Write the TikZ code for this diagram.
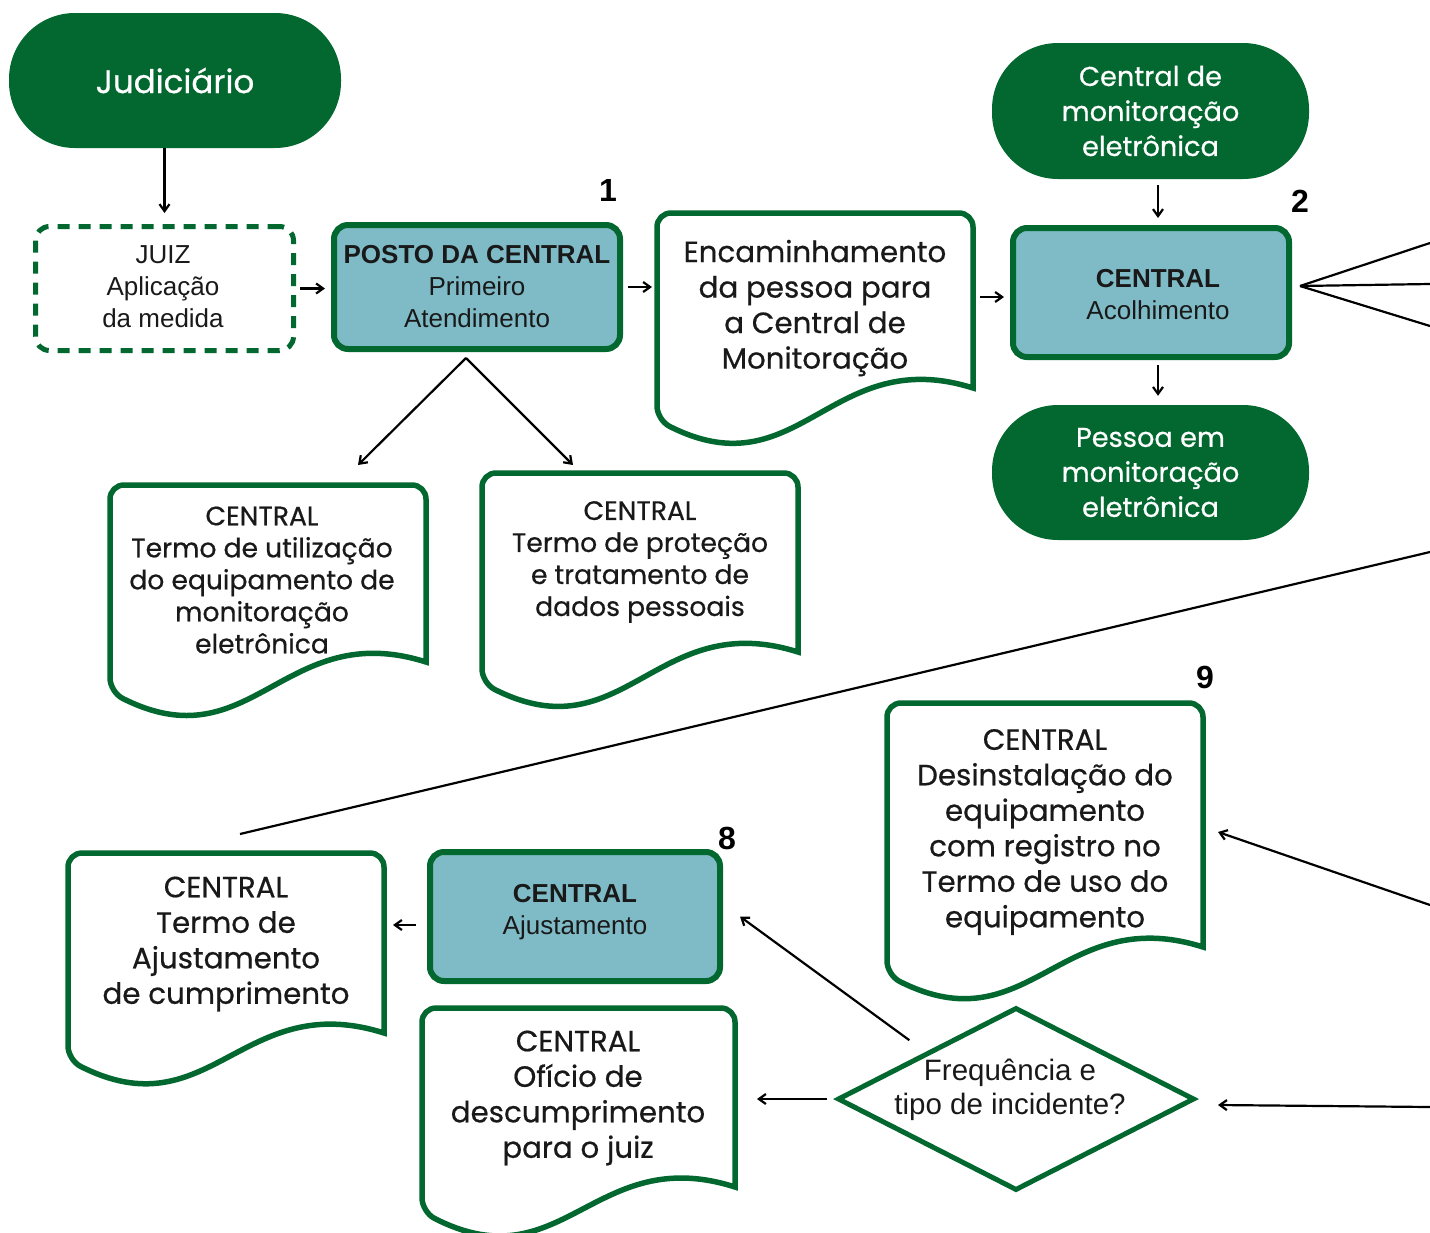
\documentclass[tikz,border=0pt]{standalone}
\usepackage{fontspec}
\setmainfont{Poppins}[FakeBold=0.6]
\newfontfamily\robfont{Liberation Sans}
\usetikzlibrary{arrows.meta,shapes.geometric,calc}
\definecolor{dg}{RGB}{3,104,47}
\definecolor{tealbox}{RGB}{127,187,199}
\definecolor{ink}{RGB}{25,25,25}
% #1 name, #2 x0, #3 top, #4 x1, #5 left bottom, #6 right bottom
\newcommand\mydoc[6]{%
  \node[docnode, minimum width={#4-#2}, minimum height={#5-#3}] (#1) at ({(#2+#4)/2},{(#3+#5)/2}) {};
  \draw[docline, rounded corners=14pt] (#4,#6) -- (#4,#3) -- (#2,#3) -- (#2,#5) [sharp corners]
     .. controls ({#2+0.45*(#4-#2)},{#5+72}) and ({#2+0.55*(#4-#2)},{#6-45}) .. (#4,#6) -- cycle;
}
\begin{document}
\begin{tikzpicture}[x=1pt,y=-1pt,
  pill/.style={rectangle, fill=dg, rounded corners=66pt, text=white, align=center, inner sep=0pt,
     font=\fontsize{27.2}{35}\selectfont},
  bluebox/.style={rectangle, fill=tealbox, draw=dg, line width=6pt, rounded corners=14pt, align=center,
     text=ink, inner sep=0pt, font=\robfont\fontsize{26}{32}\selectfont},
  dashbox/.style={rectangle, draw=dg, line width=5pt, dash pattern=on 12pt off 9pt, rounded corners=14pt, inner sep=0pt},
  robtext/.style={align=center, text=ink, inner sep=0pt, font=\robfont\fontsize{26}{32}\selectfont},
  docnode/.style={rectangle, draw=none, inner sep=0pt, outer sep=0pt},
  docline/.style={draw=dg, line width=5.5pt},
  doctext/.style={align=center, text=ink, inner sep=0pt, font=\fontsize{29.3}{35.5}\selectfont},
  smalldoc/.style={font=\fontsize{26.6}{32}\selectfont},
  arr/.style={draw=black, line width=2.2pt, -{Straight Barb[length=7pt,width=10pt]}},
  conn/.style={draw=black, line width=2.2pt},
  num/.style={font=\robfont\bfseries\fontsize{32}{32}\selectfont, text=black, inner sep=0pt},
]
\useasboundingbox (0,0) rectangle (1430,1232);

% pills
\node[pill, minimum width=332, minimum height=135, font=\fontsize{32.5}{35}\selectfont] (ju) at (175,80.5) {Judiciário};
\node[pill, minimum width=317, minimum height=136] (cm) at (1150.5,111) {Central de\\monitoração\\eletrônica};
\node[pill, minimum width=317, minimum height=135] (pe) at (1150.5,472.5) {Pessoa em\\monitoração\\eletrônica};

% juiz
\node[dashbox, minimum width=258, minimum height=124] (juiz) at (164.5,288.5) {};
\node[robtext] (juizt) at (163,287) {JUIZ\\Aplicação\\da medida};

% blue boxes
\node[bluebox, minimum width=286, minimum height=124] (posto) at (477,287) {\bfseries POSTO DA CENTRAL\\Primeiro\\Atendimento};
\node[bluebox, minimum width=276, minimum height=129] (acol) at (1151,292.5) {};
\node[robtext] (acolt) at (1158,294.5) {\bfseries CENTRAL\\Acolhimento};
\node[bluebox, minimum width=290, minimum height=129] (aj) at (575,916.5) {};
\node[robtext] (ajt) at (575,912) {\bfseries CENTRAL\\Ajustamento};

% numbers
\node[num] (n1) at (608,190) {1};
\node[num] (n2) at (1300,201) {2};
\node[num] (n8) at (727,838) {8};
\node[num] (n9) at (1205,677) {9};

% documents
\mydoc{docA}{657}{213}{973}{420}{388}
\node[doctext] (docAt) at (815,308) {Encaminhamento\\da pessoa para\\a Central de\\Monitoração};
\mydoc{docB}{110}{485}{426}{692}{662}
\node[doctext, smalldoc] (docBt) at (262,580) {CENTRAL\\Termo de utilização\\do equipamento de\\monitoração\\eletrônica};
\mydoc{docC}{482}{473}{798}{683}{652}
\node[doctext, smalldoc] (docCt) at (640,562) {CENTRAL\\Termo de proteção\\e tratamento de\\dados pessoais};
\mydoc{docD}{887}{703}{1203}{975}{947}
\node[doctext] (docDt) at (1045,832) {CENTRAL\\Desinstalação do\\equipamento\\com registro no\\Termo de uso do\\equipamento};
\mydoc{docE}{68}{853}{384}{1060}{1033}
\node[doctext] (docEt) at (226,944) {CENTRAL\\Termo de\\Ajustamento\\de cumprimento};
\mydoc{docF}{422}{1008}{735}{1212}{1187}
\node[doctext] (docFt) at (578,1098) {CENTRAL\\Ofício de\\descumprimento\\para o juiz};

% diamond
\node[diamond, draw=dg, line width=5pt, minimum width=357, minimum height=183, inner sep=0pt] (dia) at (1016,1099) {};
\node[robtext, font=\robfont\fontsize{29.5}{34}\selectfont] (diat) at (1010,1090) {Frequência e\\tipo de incidente?};

% coordinates
\coordinate (apex) at ([xshift=-11pt,yshift=-6pt]posto.south);
\coordinate (tipB) at (358,465);
\coordinate (tipC) at (573,465);
\coordinate (fan) at ([xshift=8pt,yshift=6.5pt]acol.east);
\coordinate (r1) at (1430,243);
\coordinate (r2) at (1430,284);
\coordinate (r3) at (1430,326);
\coordinate (r4) at (1430,552);
\coordinate (r5) at (1430,905);
\coordinate (r6) at (1430,1107);
\coordinate (lend) at ([xshift=14pt,yshift=19pt]docE.north);

% connectors
\draw[arr, shorten >=11pt] (ju.south -| juiz.north) -- (juiz.north);
\draw[arr, shorten <=4pt, shorten >=6pt] (juiz.east) -- (juiz.east -| posto.west);
\draw[arr, shorten <=5pt, shorten >=5pt] (posto.east) -- (posto.east -| docA.west);
\draw[arr, shorten <=7pt, shorten >=6pt] ([yshift=-4.5pt]acol.west -| docA.east) -- ([yshift=-4.5pt]acol.west);
\draw[arr, shorten <=6pt, shorten >=7pt] ([xshift=7pt]acol.north |- cm.south) -- ([xshift=7pt]acol.north);
\draw[arr, shorten <=5pt, shorten >=9pt] ([xshift=7pt]acol.south) -- ([xshift=7pt]acol.south |- pe.north);
\draw[arr] (apex) -- (tipB);
\draw[arr] (apex) -- (tipC);
\draw[conn] (fan) -- (r1);
\draw[conn] (fan) -- (r2);
\draw[conn] (fan) -- (r3);
\draw[conn] (r4) -- (lend);
\draw[arr] (r5) -- ([xshift=15pt,yshift=7pt]docD.east);
\draw[arr] (r6) -- ([xshift=21pt,yshift=-6pt]dia.east);
\draw[arr, shorten <=20pt] (dia.north west) -- ([xshift=17pt]aj.east);
\draw[arr, shorten <=8pt, shorten >=22pt] (dia.west) -- (dia.west -| docF.east);
\draw[arr, shorten <=11pt, shorten >=9pt] ([yshift=-8.5pt]aj.west) -- ([yshift=-8.5pt]aj.west -| docE.east);
\end{tikzpicture}
\end{document}
